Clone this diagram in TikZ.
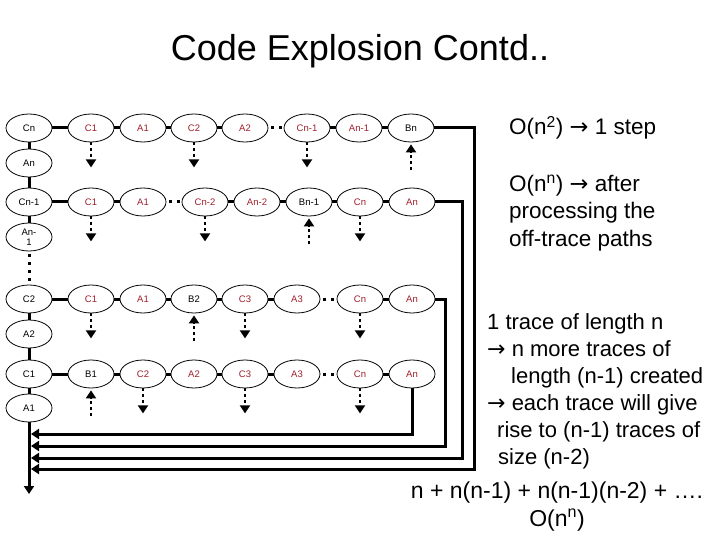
\documentclass[tikz,border=0pt]{standalone}
\usepackage{fontspec}
\setmainfont{Liberation Sans}
\newfontfamily\arrowfont{DejaVu Sans}
\newcommand{\toarrow}{{\arrowfont →}}
\usetikzlibrary{arrows.meta,shapes.geometric}
\definecolor{codered}{RGB}{158,30,42}

\begin{document}
\begin{tikzpicture}[
  x=1pt, y=-1pt,
  op/.style={ellipse, draw, line width=0.8pt, minimum width=46pt, minimum height=28pt, inner sep=0pt, align=center, font=\fontsize{9.5}{10}\selectfont},
  redop/.style={op, text=codered},
  link/.style={line width=3pt},
  gaplink/.style={line width=3pt, dash pattern=on 3pt off 5pt, dash phase=5pt},
  offtrace/.style={-{Triangle[length=8pt,width=10pt]}, line width=2.5pt, dash pattern=on 3pt off 3pt},
  back/.style={-{Triangle[length=8pt,width=10pt]}, line width=3pt},
  note/.style={anchor=west, align=left, inner sep=0pt, font=\fontsize{22.5}{27.5}\selectfont}
]
  \useasboundingbox (0,0) rectangle (720,540);

  % Title
  \node[font=\fontsize{36}{40}\selectfont] (title) at (360,51) {Code Explosion Contd..};

  % Left column: the main trace
  \node[op] (lCn) at (29,128) {Cn};
  \node[op] (lAn) at (29,163) {An};
  \node[op] (lCn1) at (29,202) {Cn-1};
  \node[op] (lAn1) at (29,237) {An-\\1};
  \node[op] (lC2) at (29,299) {C2};
  \node[op] (lA2) at (29,334) {A2};
  \node[op] (lC1) at (29,374) {C1};
  \node[op] (lA1) at (29,408) {A1};

  % Off-trace row after Cn
  \node[redop] (aC1) at (91,128) {C1};
  \node[redop] (aA1) at (143,128) {A1};
  \node[redop] (aC2) at (194,128) {C2};
  \node[redop] (aA2) at (245,128) {A2};
  \node[redop] (aCn1) at (307,128) {Cn-1};
  \node[redop] (aAn1) at (359,128) {An-1};
  \node[op] (aBn) at (411,128) {Bn};

  % Off-trace row after Cn-1
  \node[redop] (bC1) at (91,202) {C1};
  \node[redop] (bA1) at (143,202) {A1};
  \node[redop] (bCn2) at (205,202) {Cn-2};
  \node[redop] (bAn2) at (257,202) {An-2};
  \node[op] (bBn1) at (309,202) {Bn-1};
  \node[redop] (bCn) at (360,202) {Cn};
  \node[redop] (bAn) at (412,202) {An};

  % Off-trace row after C2
  \node[redop] (cC1) at (91,299) {C1};
  \node[redop] (cA1) at (143,299) {A1};
  \node[op] (cB2) at (194,299) {B2};
  \node[redop] (cC3) at (245,299) {C3};
  \node[redop] (cA3) at (297,299) {A3};
  \node[redop] (cCn) at (360,299) {Cn};
  \node[redop] (cAn) at (412,299) {An};

  % Off-trace row after C1
  \node[op] (dB1) at (91,374) {B1};
  \node[redop] (dC2) at (143,374) {C2};
  \node[redop] (dA2) at (194,374) {A2};
  \node[redop] (dC3) at (245,374) {C3};
  \node[redop] (dA3) at (297,374) {A3};
  \node[redop] (dCn) at (360,374) {Cn};
  \node[redop] (dAn) at (412,374) {An};

  % Links of the left column
  \draw[link] (lCn) -- (lAn) -- (lCn1) -- (lAn1);
  \draw[gaplink] (lAn1) -- (lC2);
  \draw[link] (lC2) -- (lA2) -- (lC1) -- (lA1);

  % Links of the rows
  \draw[link] (lCn) -- (aC1) -- (aA1) -- (aC2) -- (aA2);
  \draw[gaplink] (aA2) -- (aCn1);
  \draw[link] (aCn1) -- (aAn1) -- (aBn);
  \draw[link] (lCn1) -- (bC1) -- (bA1);
  \draw[gaplink] (bA1) -- (bCn2);
  \draw[link] (bCn2) -- (bAn2) -- (bBn1) -- (bCn) -- (bAn);
  \draw[link] (lC2) -- (cC1) -- (cA1) -- (cB2) -- (cC3) -- (cA3);
  \draw[gaplink] (cA3) -- (cCn);
  \draw[link] (cCn) -- (cAn);
  \draw[link] (lC1) -- (dB1) -- (dC2) -- (dA2) -- (dC3) -- (dA3);
  \draw[gaplink] (dA3) -- (dCn);
  \draw[link] (dCn) -- (dAn);

  % Off-trace paths leaving and joining
  \draw[offtrace] (aC1.south) -- ([yshift=-25pt]aC1.south);
  \draw[offtrace] (aC2.south) -- ([yshift=-25pt]aC2.south);
  \draw[offtrace] (aCn1.south) -- ([yshift=-25pt]aCn1.south);
  \draw[offtrace] ([yshift=-28pt]aBn.south) -- ([yshift=-2pt]aBn.south);
  \draw[offtrace] (bC1.south) -- ([yshift=-25pt]bC1.south);
  \draw[offtrace] (bCn2.south) -- ([yshift=-25pt]bCn2.south);
  \draw[offtrace] (bCn.south) -- ([yshift=-25pt]bCn.south);
  \draw[offtrace] ([yshift=-28pt]bBn1.south) -- ([yshift=-2pt]bBn1.south);
  \draw[offtrace] (cC1.south) -- ([yshift=-25pt]cC1.south);
  \draw[offtrace] (cC3.south) -- ([yshift=-25pt]cC3.south);
  \draw[offtrace] (cCn.south) -- ([yshift=-25pt]cCn.south);
  \draw[offtrace] ([yshift=-28pt]cB2.south) -- ([yshift=-2pt]cB2.south);
  \draw[offtrace] (dC2.south) -- ([yshift=-25pt]dC2.south);
  \draw[offtrace] (dC3.south) -- ([yshift=-25pt]dC3.south);
  \draw[offtrace] (dCn.south) -- ([yshift=-25pt]dCn.south);
  \draw[offtrace] ([yshift=-28pt]dB1.south) -- ([yshift=-2pt]dB1.south);

  % Feedback of the new traces into the trunk
  \coordinate (trunkend) at (29,494);
  \coordinate (in1) at (31,469);
  \coordinate (in2) at (31,458);
  \coordinate (in3) at (31,446);
  \coordinate (in4) at (31,434);
  \coordinate (turn1) at (474,469);
  \coordinate (turn2) at (462,458);
  \coordinate (turn3) at (445,446);
  \draw[back] (lA1) -- (trunkend);
  \draw[back] (aBn.east) -| (turn1) -- (in1);
  \draw[back] (bAn.east) -| (turn2) -- (in2);
  \draw[back] (cAn.east) -| (turn3) -- (in3);
  \draw[back] (dAn.south) |- (in4);

  % Notes on the right
  \node[note] (step) at (509,128) {O(n\textsuperscript{2}) \toarrow{} 1 step};
  \node[note] (after) at (509,213) {O(n\textsuperscript{n}) \toarrow{} after\\processing the\\off-trace paths};
  \node[note, font=\fontsize{22}{27}\selectfont] (traces) at (487,391) {1 trace of length n\\\toarrow{} n more traces of\\\hspace*{24pt}length (n-1) created\\\toarrow{} each trace will give\\\hspace*{10pt}rise to (n-1) traces of\\\hspace*{11pt}size (n-2)};
  \node[note, anchor=center, align=center, font=\fontsize{23}{28}\selectfont] (sum) at (557,507) {n + n(n-1) + n(n-1)(n-2) + ….\\O(n\textsuperscript{n})};

\end{tikzpicture}
\end{document}
